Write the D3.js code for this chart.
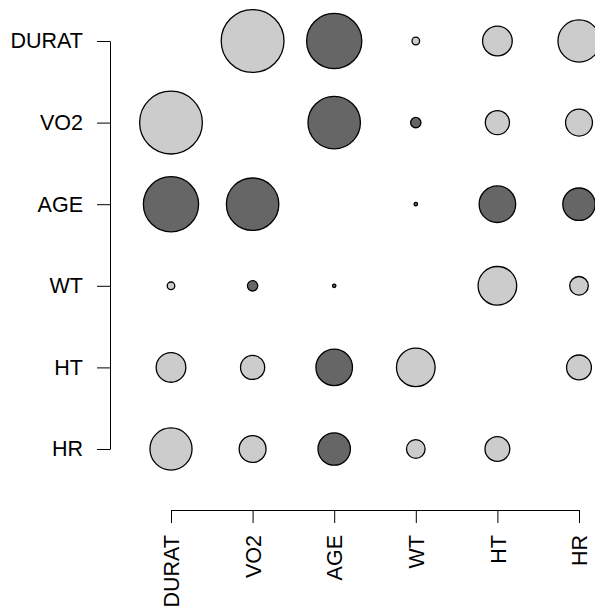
<!DOCTYPE html>
<html>
<head>
<meta charset="utf-8">
<script src="https://cdn.jsdelivr.net/npm/d3@7"></script>
<style>
  html, body { margin: 0; padding: 0; background: #fff; }
  svg { display: block; }
  text { font-family: "Liberation Sans", Arial, sans-serif; }
</style>
</head>
<body>
<svg id="chart" width="595" height="613"></svg>
<script>
// Variables in the correlation matrix
const variables = ["DURAT", "VO2", "AGE", "WT", "HT", "HR"];

// Upper-triangle correlations (row, column, r); matrix is symmetric
const pairs = [
  ["DURAT", "VO2", 0.91],
  ["DURAT", "AGE", -0.80],
  ["DURAT", "WT", 0.11],
  ["DURAT", "HT", 0.43],
  ["DURAT", "HR", 0.61],
  ["VO2", "AGE", -0.76],
  ["VO2", "WT", -0.15],
  ["VO2", "HT", 0.35],
  ["VO2", "HR", 0.39],
  ["AGE", "WT", -0.05],
  ["AGE", "HT", -0.53],
  ["AGE", "HR", -0.47],
  ["WT", "HT", 0.56],
  ["WT", "HR", 0.27],
  ["HT", "HR", 0.36]
];

const svg = d3.select("#chart");

const x = d3.scalePoint().domain(variables).range([171, 579]);
const y = d3.scalePoint().domain(variables).range([41, 449]);
const r = d3.scaleLinear().domain([0, 1]).range([0, 34.5]);

// Expand to full symmetric cell list (diagonal omitted)
const cells = [];
pairs.forEach(([a, b, v]) => {
  cells.push({ row: a, col: b, v });
  cells.push({ row: b, col: a, v });
});

svg.append("g")
  .selectAll("circle")
  .data(cells)
  .join("circle")
  .attr("cx", d => x(d.col))
  .attr("cy", d => y(d.row))
  .attr("r", d => r(Math.abs(d.v)))
  .attr("fill", d => d.v >= 0 ? "#cccccc" : "#666666")
  .attr("stroke", "#000")
  .attr("stroke-width", 1.3);

// Left axis
const yAxis = svg.append("g")
  .attr("transform", "translate(110,0)")
  .call(d3.axisLeft(y).tickSize(13).tickSizeOuter(0).tickPadding(14));

// Bottom axis with vertical labels
const xAxis = svg.append("g")
  .attr("transform", "translate(0,510)")
  .call(d3.axisBottom(x).tickSize(13).tickSizeOuter(0));

xAxis.selectAll(".tick text")
  .attr("transform", "rotate(-90)")
  .attr("text-anchor", "end")
  .attr("x", -25)
  .attr("y", 0)
  .attr("dy", "0.36em");

[yAxis, xAxis].forEach(g => {
  g.selectAll("text").attr("font-size", 21.5).attr("fill", "#000")
    .attr("font-family", "'Liberation Sans', Arial, sans-serif");
  g.selectAll("path, line").attr("stroke", "#000");
});
</script>
</body>
</html>
